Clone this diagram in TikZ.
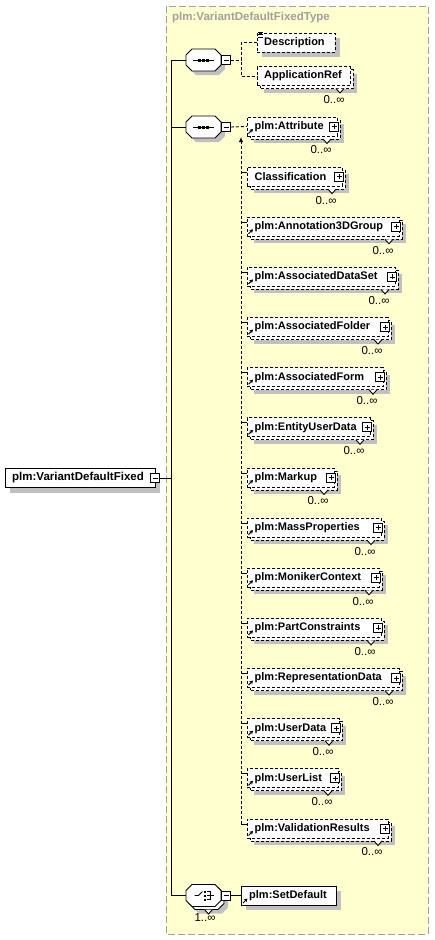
\documentclass[tikz,border=0pt]{standalone}
\usepackage{fontspec}
\setmainfont{Liberation Sans}
\usetikzlibrary{arrows.meta}
\definecolor{bgc}{RGB}{255,255,208}
\definecolor{shc}{RGB}{192,192,192}
\definecolor{ttc}{RGB}{160,160,160}
\newcommand\octpath[3]{([shift={(-11.5+#2,-11+#3)}]#1.center) -- ([shift={(11.5+#2,-11+#3)}]#1.center) -- ([shift={(17.5+#2,-5+#3)}]#1.center) -- ([shift={(17.5+#2,5+#3)}]#1.center) -- ([shift={(11.5+#2,11+#3)}]#1.center) -- ([shift={(-11.5+#2,11+#3)}]#1.center) -- ([shift={(-17.5+#2,5+#3)}]#1.center) -- ([shift={(-17.5+#2,-5+#3)}]#1.center) -- cycle}
\tikzset{
  lw/.style={line width=0.9pt},
  dsh/.style={dash pattern=on 3pt off 2pt},
  fbox/.style={draw, fill=white, line width=0.9pt, inner sep=0pt, minimum height=19pt},
  etext/.style={font=\bfseries\fontsize{11}{13}\selectfont, inner sep=0pt, anchor=west},
  ttext/.style={font=\bfseries\fontsize{11.5}{13}\selectfont, inner sep=0pt, anchor=west, text=ttc},
  mtext/.style={font=\fontsize{11.5}{13}\selectfont, inner sep=0pt},
  octnode/.style={draw=none, minimum width=35pt, minimum height=22pt, inner sep=0pt},
  plusbox/.style={draw, fill=white, line width=0.8pt, minimum size=9pt, inner sep=0pt,
    path picture={\draw[line width=0.8pt] ([xshift=2pt]path picture bounding box.west) -- ([xshift=-2pt]path picture bounding box.east) ([yshift=-2pt]path picture bounding box.north) -- ([yshift=2pt]path picture bounding box.south);}},
  minusbox/.style={draw, fill=white, line width=0.8pt, minimum size=9pt, inner sep=0pt,
    path picture={\draw[line width=0.8pt] ([xshift=2pt]path picture bounding box.west) -- ([xshift=-2pt]path picture bounding box.east);}},
  refarrow/.style={line width=1pt, -{Stealth[length=3.5pt,width=4pt]}}
}
\begin{document}
\begin{tikzpicture}[x=1pt,y=-1pt]
\useasboundingbox (0,0) rectangle (434,940);
% background
\draw[fill=bgc, draw=ttc, line width=0.9pt, dash pattern=on 7pt off 3pt] (166,6) rectangle (428,934);
\node[ttext] (title) at (172,18) {plm:VariantDefaultFixedType};

% root
\fill[shc] (10,473) rectangle (160,492.5);
\node[fbox, minimum width=150pt] (root) at (80,477.5) {};
\node[etext, font=\bfseries\fontsize{11.5}{13}\selectfont] (roott) at (12,477.5) {plm:VariantDefaultFixed};
\node[minusbox] (rm) at (155,478) {};
\coordinate (tj) at (171,478);
\coordinate (t1) at (171,60);
\coordinate (t2) at (171,127);
\coordinate (t3) at (171,895.5);
\draw[lw] (rm.east) -- (tj);
\draw[lw] (t1) -- (t3);

% sequence 1
\node[octnode] (s1) at (203.5,60) {};
\fill[shc] \octpath{s1}{4}{4};
\draw[lw, fill=white] \octpath{s1}{0}{0};
\draw[lw] ([xshift=-10.5pt]s1.center) -- ([xshift=10.5pt]s1.center);
\foreach \dx in {-4,0,4} \fill ([shift={(\dx-1.5,-1.5)}]s1.center) rectangle ([shift={(\dx+1.5,1.5)}]s1.center);
\node[minusbox] (m1) at (226,60) {};
\draw[lw] (t1) -- (s1.west);

% sequence 2
\node[octnode] (s2) at (203.5,127) {};
\fill[shc] \octpath{s2}{4}{4};
\draw[lw, fill=white] \octpath{s2}{0}{0};
\draw[lw] ([xshift=-10.5pt]s2.center) -- ([xshift=10.5pt]s2.center);
\foreach \dx in {-4,0,4} \fill ([shift={(\dx-1.5,-1.5)}]s2.center) rectangle ([shift={(\dx+1.5,1.5)}]s2.center);
\node[minusbox] (m2) at (226,127) {};
\draw[lw] (t2) -- (s2.west);

% group 1 : Description, ApplicationRef
\fill[shc] (262,38) rectangle (340,57);
\node[fbox, dsh, minimum width=78pt, anchor=west] (desc) at (257,42.5) {};
\node[etext] (desct) at (264,42.5) {Description};
\draw[line width=0.7pt] (258,32) -- (263,32) (258,34.5) -- (263,34.5) (258,37) -- (263,37);
\fill[shc] (264,73.5) rectangle (357,92.5);
\draw[lw, dsh, fill=white] (260,69.5) rectangle (353,88.5);
\draw[lw, fill=white] (336,88.5) -- (340,93) -- (344,88.5);
\node[fbox, dsh, minimum width=93pt, anchor=west] (appref) at (257,76) {};
\node[etext] (appreft) at (264,76) {ApplicationRef};
\node[mtext] (apprefm) at (334,99.5) {0..∞};
\coordinate (g1a) at (241,60);
\coordinate (g1t) at (241,42.5);
\coordinate (g1b) at (241,76);
\draw[lw, dsh] (m1.east) -- (g1a);
\draw[lw, dsh] (desc.west) -- (g1t) -- (g1b) -- (appref.west);

% group 2 : repeated elements
\coordinate (vt) at (241,137);
\coordinate (vb) at (241,824);
\draw[lw, dsh, -{Latex[length=5pt,width=4.5pt]}] (vb) -- (vt);
\foreach \i/\txt/\rb/\rf in {0/plm:Attribute/340/1, 1/Classification/345/0, 2/plm:Annotation3DGroup/402/1, 3/plm:AssociatedDataSet/398/1, 4/plm:AssociatedFolder/391/1, 5/plm:AssociatedForm/386/1, 6/plm:EntityUserData/373/1, 7/plm:Markup/337/1, 8/plm:MassProperties/384/1, 9/plm:MonikerContext/382/1, 10/plm:PartConstraints/384/1, 11/plm:RepresentationData/402/1, 12/plm:UserData/342/1, 13/plm:UserList/341/1, 14/plm:ValidationResults/391/1}{
  \pgfmathsetmacro\c{126.5+50.14*\i}
  \pgfmathsetmacro\T{\c-9.5}
  \pgfmathsetmacro\B{\c+9.5}
  \fill[shc] (254,\T+7) rectangle (\rb+4,\B+7);
  \draw[lw, dsh, fill=white] (250,\T+3) rectangle (\rb,\B+3);
  \draw[lw, fill=white] (\rb-17,\B+3) -- (\rb-13,\B+7.5) -- (\rb-9,\B+3);
  \node[fbox, dsh, minimum width=\rb-250, anchor=west] (e\i) at (247,\c) {};
  \node[etext] (e\i t) at (254.5,\c) {\txt};
  \node[plusbox] (e\i p) at (\rb-6,\c) {};
  \node[mtext] (e\i m) at (\rb-19,\B+14) {0..∞};
  \ifnum\rf=1 \draw[refarrow] (248.5,\B-2.5) -- (253,\B-7); \fi
  \ifnum\i>0 \draw[lw] (241,\T+5) -- (246.5,\T+5); \fi
}
\draw[lw, dsh] (m2.east) -- (e0.west);

% choice
\node[octnode] (s3) at (203.5,895.5) {};
\fill[shc] \octpath{s3}{7}{7};
\draw[lw, fill=white] \octpath{s3}{3}{3};
\draw[lw, fill=white] ([shift={(1,14)}]s3.center) -- ([shift={(5,18.5)}]s3.center) -- ([shift={(9,14)}]s3.center);
\draw[lw, fill=white] \octpath{s3}{0}{0};
\draw[lw] ([shift={(-9,0)}]s3.center) -- ([shift={(-5,0)}]s3.center) -- ([shift={(-1,-4)}]s3.center);
\foreach \dy in {-4,0,4} \fill ([shift={(0,\dy-1)}]s3.center) rectangle ([shift={(2,\dy+1)}]s3.center);
\draw[lw] ([shift={(3.5,-4)}]s3.center) -- ([shift={(6.5,-4)}]s3.center) -- ([shift={(6.5,4)}]s3.center) -- ([shift={(3.5,4)}]s3.center);
\draw[lw] ([shift={(3.5,0)}]s3.center) -- ([shift={(10,0)}]s3.center);
\node[minusbox] (m3) at (226,895.5) {};
\node[mtext] (s3m) at (205,918) {1..∞};
\draw[lw] (t3) -- (s3.west);

% SetDefault
\fill[shc] (246,891) rectangle (341,910);
\node[fbox, minimum width=95pt, anchor=west] (sd) at (241,895.5) {};
\node[etext] (sdt) at (249,895.5) {plm:SetDefault};
\draw[refarrow] (243,903) -- (247.5,898.5);
\draw[lw] (m3.east) -- (sd.west);
\end{tikzpicture}
\end{document}
